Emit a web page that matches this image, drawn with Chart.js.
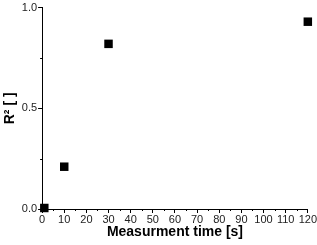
<!DOCTYPE html>
<html>
<head>
<meta charset="utf-8">
<script src="https://cdn.jsdelivr.net/npm/chart.js@4"></script>
<style>
  html, body { margin: 0; padding: 0; background: #fff; }
  #wrap { width: 317px; height: 245px; }
</style>
</head>
<body>
<div id="wrap"><canvas id="grafico"></canvas></div>
<script>
// datos
const tiempos = [1, 10, 30, 120];
const r2 = [0.005, 0.21, 0.82, 0.93];
const xTicks = [0, 10, 20, 30, 40, 50, 60, 70, 80, 90, 100, 110, 120];
const yTicks = [0.0, 0.5, 1.0];

// ticks menores (mitad de camino) dibujados a mano
const ticksMenores = {
  id: 'ticksMenores',
  afterDraw(chart) {
    const c = chart.ctx;
    const x = chart.scales.x, y = chart.scales.y;
    c.save();
    c.strokeStyle = '#000';
    c.lineWidth = 1;
    c.beginPath();
    for (let i = 0; i < xTicks.length - 1; i++) {
      const px = Math.round(x.getPixelForValue((xTicks[i] + xTicks[i + 1]) / 2)) + 0.5;
      c.moveTo(px, x.top);
      c.lineTo(px, x.top + 2);
    }
    for (let i = 0; i < yTicks.length - 1; i++) {
      const py = Math.round(y.getPixelForValue((yTicks[i] + yTicks[i + 1]) / 2)) + 0.5;
      c.moveTo(y.right, py);
      c.lineTo(y.right - 2, py);
    }
    c.stroke();
    c.restore();
  }
};

const ctx = document.getElementById('grafico').getContext('2d');
new Chart(ctx, {
  type: 'scatter',
  data: {
    datasets: [{
      data: tiempos.map((t, i) => ({ x: t, y: r2[i] })),
      pointStyle: 'rect',
      pointRadius: 6,
      pointHoverRadius: 6,
      backgroundColor: '#000',
      borderColor: '#000',
      borderWidth: 0,
      clip: false
    }]
  },
  options: {
    responsive: true,
    maintainAspectRatio: false,
    animation: false,
    layout: { padding: { top: 0, right: 8, left: 2, bottom: 4 } },
    plugins: { legend: { display: false }, tooltip: { enabled: false } },
    scales: {
      x: {
        type: 'linear',
        min: 0,
        max: 120,
        afterBuildTicks: s => { s.ticks = xTicks.map(v => ({ value: v })); },
        grid: { drawOnChartArea: false, tickLength: 4, tickColor: '#000' },
        border: { color: '#000', width: 1 },
        ticks: { color: '#222', font: { family: 'Liberation Sans', size: 11 }, padding: 0, maxRotation: 0 },
        title: {
          display: true,
          text: 'Measurment time [s]',
          color: '#000',
          font: { family: 'Liberation Sans', size: 14, weight: 'bold' },
          padding: { top: -2, bottom: 0 }
        }
      },
      y: {
        min: 0,
        max: 1,
        afterBuildTicks: s => { s.ticks = yTicks.map(v => ({ value: v })); },
        grid: { drawOnChartArea: false, tickLength: 4, tickColor: '#000' },
        border: { color: '#000', width: 1 },
        ticks: {
          color: '#222',
          font: { family: 'Liberation Sans', size: 11 },
          padding: 1,
          callback: v => v.toFixed(1)
        },
        title: {
          display: true,
          text: 'R² [ ]',
          color: '#000',
          font: { family: 'Liberation Sans', size: 14, weight: 'bold' },
          padding: { top: 0, bottom: 2 }
        }
      }
    }
  },
  plugins: [ticksMenores]
});
</script>
</body>
</html>
